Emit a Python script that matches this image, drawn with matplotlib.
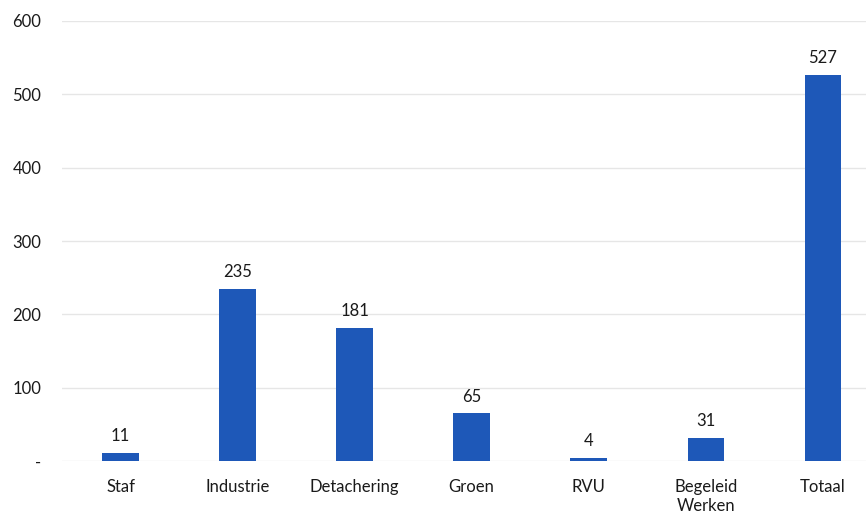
import matplotlib
matplotlib.use("Agg")
import matplotlib.pyplot as plt

categories = ["Staf", "Industrie", "Detachering", "Groen", "RVU", "Begeleid\nWerken", "Totaal"]
values = [11, 235, 181, 65, 4, 31, 527]
yticks = [0, 100, 200, 300, 400, 500, 600]
ytick_labels = ["-", "100", "200", "300", "400", "500", "600"]

plt.rcParams["font.family"] = ["Lato", "DejaVu Sans"]

fig = plt.figure(figsize=(8.66, 5.13), dpi=100)
ax = fig.add_axes([62/866, 1 - 461/513, 804/866, 440/513])

x = list(range(len(categories)))
ax.bar(x, values, width=0.31, color="#1e58b8", zorder=3)
for xi, v in zip(x, values):
    ax.text(xi, v + 12, str(v), ha="center", va="bottom", fontsize=12, color="#1a1a1a")

ax.set_ylim(0, 600)
ax.set_xlim(-0.5, 6.37)
ax.set_yticks(yticks)
ax.set_yticklabels(ytick_labels, fontsize=12, color="#1a1a1a")
ax.set_xticks(x)
ax.set_xticklabels(categories, fontsize=12, color="#1a1a1a", linespacing=1.2)
ax.yaxis.grid(True, color="#e6e6e6", linewidth=1, zorder=0)
for s in ax.spines.values():
    s.set_visible(False)
ax.tick_params(axis="both", length=0)
ax.tick_params(axis="y", pad=15)
ax.tick_params(axis="x", pad=13)

fig.savefig("out.png", dpi=100, facecolor="white")
